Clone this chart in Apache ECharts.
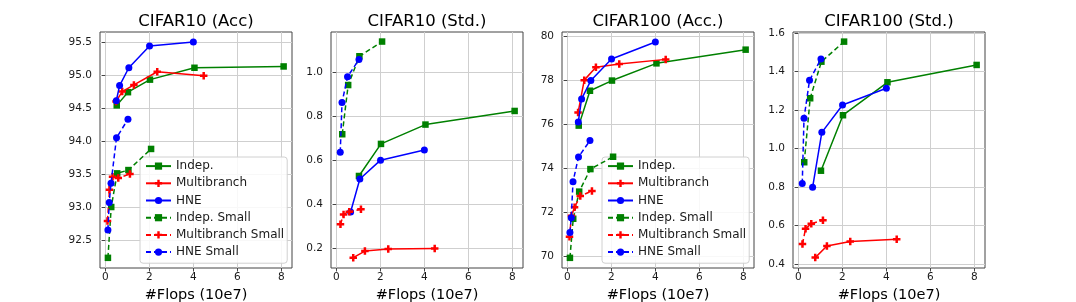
<!DOCTYPE html>
<html>
<head>
<meta charset="utf-8">
<script src="https://cdn.jsdelivr.net/npm/echarts@6/dist/echarts.min.js"></script>
<style>
html,body{margin:0;padding:0;background:#fff;}
#chart{width:1076px;height:302px;}
</style>
</head>
<body>
<div id="chart"></div>
<script>
// ---- data ----
const seriesNames = ['Indep.', 'Multibranch', 'HNE', 'Indep. Small', 'Multibranch Small', 'HNE Small'];
const panelTitles = ['CIFAR10 (Acc)', 'CIFAR10 (Std.)', 'CIFAR100 (Acc.)', 'CIFAR100 (Std.)'];
const xTicks = [0, 2, 4, 6, 8];

// FLOPs (10e7) per model configuration
const indepX  = [0.52, 1.03, 2.03, 4.05, 8.10];
const multiX  = [0.49, 0.77, 1.30, 2.36, 4.47];
const hneX    = [0.50, 0.65, 1.07, 2.01, 4.00];
const indepSX = [0.12, 0.27, 0.54, 1.05, 2.08];
const multiSX = [0.10, 0.19, 0.33, 0.59, 1.12];
const hneSX   = [0.12, 0.18, 0.26, 0.51, 1.03];

// CIFAR10 accuracy
const c10AccIndep  = [94.55, 94.75, 94.94, 95.12, 95.14];
const c10AccMulti  = [94.61, 94.76, 94.86, 95.06, 95.00];
const c10AccHne    = [94.62, 94.85, 95.12, 95.45, 95.51];
const c10AccIndepS = [92.24, 93.01, 93.52, 93.57, 93.89];
const c10AccMultiS = [92.80, 93.27, 93.47, 93.45, 93.51];
const c10AccHneS   = [92.66, 93.08, 93.37, 94.06, 94.34];

// CIFAR10 std (first configuration has no std)
const c10StdIndep  = [0.528, 0.674, 0.762, 0.824];
const c10StdMulti  = [0.156, 0.186, 0.195, 0.198];
const c10StdHne    = [0.364, 0.514, 0.600, 0.646];
const c10StdIndepS = [0.718, 0.942, 1.073, 1.140];
const c10StdMultiS = [0.308, 0.353, 0.365, 0.376];
const c10StdHneS   = [0.636, 0.862, 0.980, 1.058];

// CIFAR100 accuracy
const c100AccIndep  = [75.94, 77.52, 77.98, 78.76, 79.38];
const c100AccMulti  = [76.53, 78.00, 78.58, 78.73, 78.94];
const c100AccHne    = [76.10, 77.15, 77.98, 78.96, 79.73];
const c100AccIndepS = [69.95, 71.72, 72.95, 73.97, 74.53];
const c100AccMultiS = [70.90, 71.86, 72.24, 72.75, 72.98];
const c100AccHneS   = [71.10, 71.77, 73.40, 74.52, 75.26];

// CIFAR100 std
const c100StdIndep  = [0.884, 1.172, 1.343, 1.433];
const c100StdMulti  = [0.433, 0.493, 0.516, 0.528];
const c100StdHne    = [0.798, 1.083, 1.225, 1.312];
const c100StdIndepS = [0.928, 1.260, 1.450, 1.554];
const c100StdMultiS = [0.504, 0.583, 0.609, 0.627];
const c100StdHneS   = [0.817, 1.156, 1.353, 1.464];

// y tick labels
const yTicks0 = [92.5, 93.0, 93.5, 94.0, 94.5, 95.0, 95.5];
const yTicks1 = [0.2, 0.4, 0.6, 0.8, 1.0];
const yTicks2 = [70, 72, 74, 76, 78, 80];
const yTicks3 = [0.4, 0.6, 0.8, 1.0, 1.2, 1.4, 1.6];

// ---- build ----
const FONT = 'DejaVu Sans';
const xsets = [indepX, multiX, hneX, indepSX, multiSX, hneSX];
const panels = [
  {ys: [c10AccIndep, c10AccMulti, c10AccHne, c10AccIndepS, c10AccMultiS, c10AccHneS], std: false, ticks: yTicks0, dec: 1, min: 92.086, max: 95.662},
  {ys: [c10StdIndep, c10StdMulti, c10StdHne, c10StdIndepS, c10StdMultiS, c10StdHneS], std: true, ticks: yTicks1, dec: 1, min: 0.109, max: 1.1835},
  {ys: [c100AccIndep, c100AccMulti, c100AccHne, c100AccIndepS, c100AccMultiS, c100AccHneS], std: false, ticks: yTicks2, dec: 0, min: 69.49, max: 80.18},
  {ys: [c100StdIndep, c100StdMulti, c100StdHne, c100StdIndepS, c100StdMultiS, c100StdHneS], std: true, ticks: yTicks3, dec: 1, min: 0.379, max: 1.604}
];
const colors = ['#008000', '#ff0000', '#0000ff', '#008000', '#ff0000', '#0000ff'];
const PLUS = 'path://M2,0H4V2H6V4H4V6H2V4H0V2H2Z';
const symbols = ['rect', PLUS, 'circle', 'rect', PLUS, 'circle'];
const symSizes = [6.5, 7.5, 7, 6.5, 7.5, 7];
const dashed = [false, false, false, true, true, true];

const gridLefts = [100, 331, 562, 793];
const grids = [], xAxes = [], yAxes = [], series = [], titles = [];
panels.forEach((p, i) => {
  grids.push({left: gridLefts[i], top: 32, width: 192, height: 236, show: true,
    outerBoundsMode: 'none', containLabel: false,
    borderColor: '#444', borderWidth: 1, backgroundColor: 'transparent'});
  titles.push({text: panelTitles[i], left: gridLefts[i] + 96 - 5, top: 8, textAlign: 'center',
    textStyle: {fontFamily: FONT, fontSize: 16.5, fontWeight: 'normal', color: '#000'}});
  xAxes.push({type: 'value', gridIndex: i, min: -0.24, max: 8.48,
    name: '#Flops (10e7)', nameLocation: 'middle', nameGap: 17,
    nameTextStyle: {fontFamily: FONT, fontSize: 14.5, color: '#000', verticalAlign: 'top'},
    axisLine: {show: false},
    axisTick: {show: true, length: 3.5, inside: false, customValues: xTicks, lineStyle: {color: '#444'}},
    axisLabel: {customValues: xTicks, fontFamily: FONT, fontSize: 10.5, color: '#1a1a1a', margin: 4},
    splitLine: {show: true, lineStyle: {color: '#cfcfcf', width: 1}}
  });
  yAxes.push({type: 'value', gridIndex: i, min: p.min, max: p.max,
    axisLine: {show: false},
    axisTick: {show: true, length: 3.5, inside: false, customValues: p.ticks, lineStyle: {color: '#444'}},
    axisLabel: {customValues: p.ticks, fontFamily: FONT, fontSize: 10.5, color: '#1a1a1a', margin: 8,
      formatter: v => Number(v).toFixed(p.dec)},
    splitLine: {show: true, lineStyle: {color: '#cfcfcf', width: 1}}
  });
  p.ys.forEach((ys, k) => {
    const xs = p.std ? xsets[k].slice(1) : xsets[k];
    series.push({
      type: 'line', name: seriesNames[k], xAxisIndex: i, yAxisIndex: i,
      data: ys.map((y, j) => [xs[j], y]),
      symbol: symbols[k], symbolSize: symSizes[k], showAllSymbol: true,
      itemStyle: {color: colors[k]},
      lineStyle: {color: colors[k], width: 1.5, type: dashed[k] ? [5, 3] : 'solid'},
      animation: false, silent: true, z: 2 + k
    });
  });
});

const legendBase = {
  data: seriesNames, orient: 'vertical', top: 157,
  itemWidth: 25, itemHeight: 9, itemGap: 3,
  padding: [2, 3, 4, 5],
  backgroundColor: 'rgba(255,255,255,0.85)', borderColor: '#d0d0d0', borderWidth: 1, borderRadius: 3,
  textStyle: {fontFamily: FONT, fontSize: 12, color: '#1a1a1a', lineHeight: 14.2},
  selectedMode: false
};

const chart = echarts.init(document.getElementById('chart'), null, {renderer: 'canvas'});
chart.setOption({
  animation: false,
  backgroundColor: '#ffffff',
  title: titles,
  grid: grids,
  xAxis: xAxes,
  yAxis: yAxes,
  legend: [Object.assign({}, legendBase, {left: 140}), Object.assign({}, legendBase, {left: 602})],
  series: series
});
</script>
</body>
</html>
